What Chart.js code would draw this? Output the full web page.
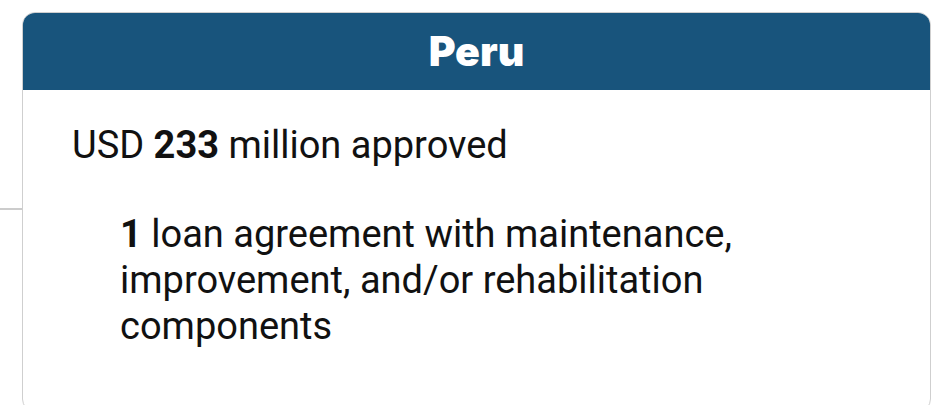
<!DOCTYPE html>
<html>
<head>
<meta charset="utf-8">
<script src="https://cdn.jsdelivr.net/npm/chart.js@4"></script>
<style>
  html, body { margin: 0; padding: 0; background: #fff; }
  #wrap { position: relative; width: 951px; height: 405px; overflow: hidden; }
  #chartBox { position: absolute; left: 0; top: 0; width: 951px; height: 405px; }
  .card {
    position: absolute; left: 22px; top: 12px; width: 907px; height: 398px;
    border: 1.5px solid #cfcfcf; border-radius: 13px; background: #fff; overflow: hidden;
    font-family: Roboto, "Noto Sans", sans-serif; color: #111;
  }
  .card .head {
    height: 77px; background: #18547c; color: #fff; text-align: center;
    font-family: Inter, Roboto, sans-serif; font-weight: 900; font-size: 41px; line-height: 77px;
  }
  .card .amount { position: absolute; left: 49px; top: 109px; font-size: 38px; line-height: 46px; }
  .card .loans { position: absolute; left: 97px; top: 198px; width: 700px; font-size: 38px; line-height: 46px; }
  b { font-weight: 700; }
</style>
</head>
<body>
<div id="wrap">
  <div id="chartBox"><canvas id="lineChart"></canvas></div>
  <div class="card">
    <div class="head" id="cardTitle"></div>
    <div class="amount" id="cardAmount"></div>
    <div class="loans" id="cardLoans"></div>
  </div>
</div>
<script>
// card contents
var countryName = "Peru";
var approvedUsdMillions = 233;
var loanCount = 1;

// baseline line behind the card (only the left end shows)
var axisLabels = ["start", "mid", "end"];
var baselineValues = [0, 0, null];

document.getElementById("cardTitle").textContent = countryName;
document.getElementById("cardAmount").innerHTML = "USD <b>" + approvedUsdMillions + "</b> million approved";
document.getElementById("cardLoans").innerHTML = "<b>" + loanCount + "</b> loan agreement with maintenance, improvement, and/or rehabilitation components";

var ctx = document.getElementById("lineChart").getContext("2d");
var myLineChart = new Chart(ctx, {
    type: "line",
    data: {
        labels: axisLabels,
        datasets: [{
                data: baselineValues,
                borderColor: "#cccccc",
                borderWidth: 2,
                pointRadius: 0
            }]
    },
    options: {
        responsive: true,
        maintainAspectRatio: false,
        animation: false,
        layout: { padding: { top: 13, bottom: 0, left: 0, right: 0 } },
        plugins: { legend: { display: false }, tooltip: { enabled: false } },
        scales: {
            x: { display: false, offset: false },
            y: { display: false, min: -1, max: 1 }
        }
    }
});
</script>
</body>
</html>
